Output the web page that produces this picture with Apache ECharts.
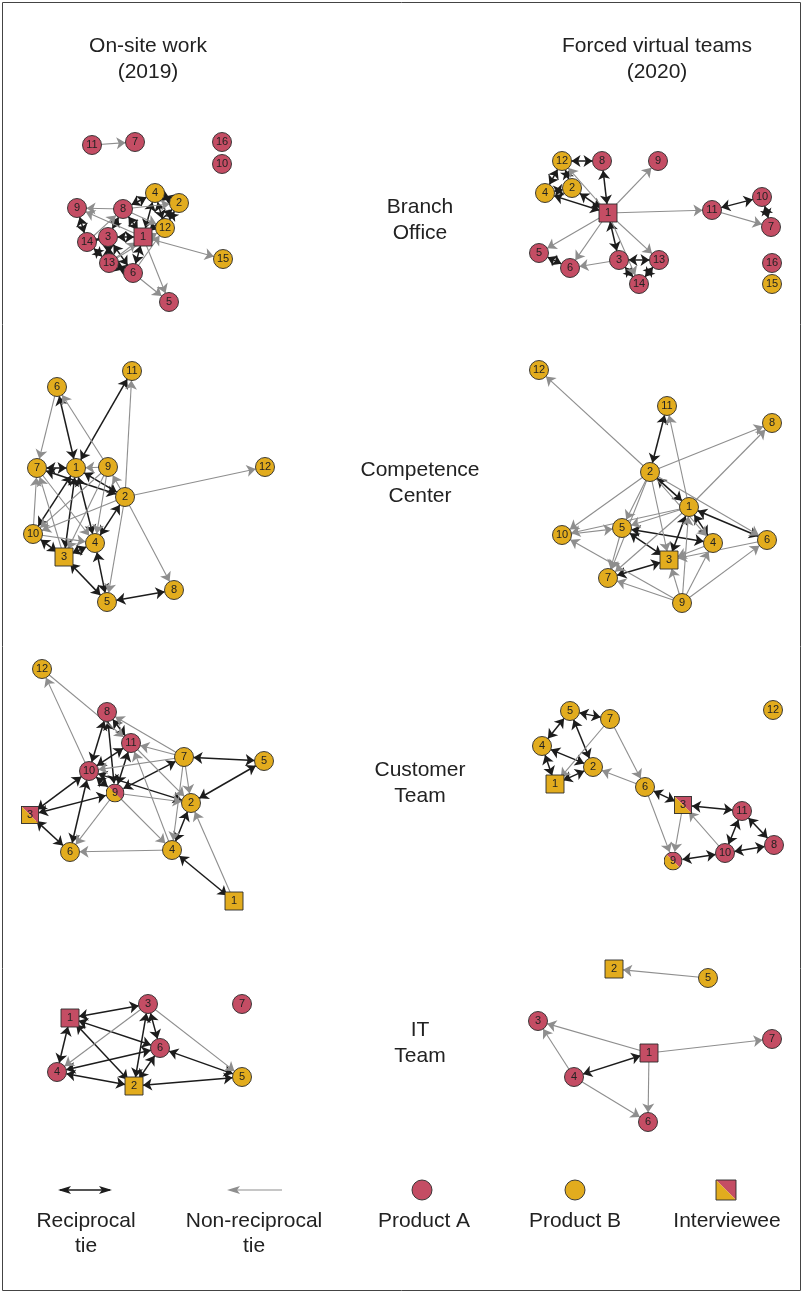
<!DOCTYPE html>
<html>
<head>
<meta charset="utf-8">
<script src="https://cdn.jsdelivr.net/npm/echarts@6/dist/echarts.min.js"></script>
<style>
  html, body { margin: 0; padding: 0; background: #fff; }
  #chart { width: 803px; height: 1293px; }
</style>
</head>
<body>
<div id="chart"></div>
<script>
// Node tables: [label, layoutX, layoutY, product ('A', 'B' or 'AB' for both), interviewee (1/0)]
// Tie tables: reciprocal pairs [a, b] and one-way ties [from, to]

// Branch Office
const branch2019Nodes = [
  [11, 72, 10, 'A', 0], [7, 115, 7, 'A', 0], [16, 202, 7, 'A', 0], [10, 202, 29, 'A', 0],
  [4, 135, 58, 'B', 0], [2, 159, 68, 'B', 0], [9, 57, 73, 'A', 0], [8, 103, 74, 'A', 0],
  [12, 145, 93, 'B', 0], [1, 123, 102, 'A', 1], [3, 88, 102, 'A', 0], [14, 67, 107, 'A', 0],
  [15, 203, 124, 'B', 0], [13, 89, 128, 'A', 0], [6, 113, 138, 'A', 0], [5, 149, 167, 'A', 0]
];
const branch2019Reciprocal = [
  [9, 14], [4, 2], [8, 4], [4, 12], [2, 12], [1, 4], [1, 2], [8, 1], [8, 3], [3, 1],
  [3, 13], [14, 13], [13, 6], [3, 6], [6, 1], [14, 3]
];
const branch2019OneWay = [
  [11, 7], [8, 9], [1, 9], [8, 2], [8, 12], [14, 8], [13, 12], [6, 12], [1, 15], [1, 5], [6, 5], [13, 1]
];

const branch2020Nodes = [
  [12, 32, 26, 'B', 0], [8, 72, 26, 'A', 0], [9, 128, 26, 'A', 0], [2, 42, 53, 'B', 0],
  [4, 15, 58, 'B', 0], [1, 78, 78, 'A', 1], [11, 182, 75, 'A', 0], [10, 232, 62, 'A', 0],
  [7, 241, 92, 'A', 0], [5, 9, 118, 'A', 0], [3, 89, 125, 'A', 0], [13, 129, 125, 'A', 0],
  [6, 40, 133, 'A', 0], [14, 109, 149, 'A', 0], [16, 242, 128, 'A', 0], [15, 242, 149, 'B', 0]
];
const branch2020Reciprocal = [
  [12, 8], [12, 4], [12, 2], [2, 4], [8, 1], [4, 1], [2, 1], [11, 10], [10, 7], [1, 3],
  [3, 13], [3, 14], [13, 14], [5, 6]
];
const branch2020OneWay = [
  [1, 12], [1, 9], [1, 11], [11, 7], [1, 5], [1, 6], [1, 13], [1, 14], [3, 6]
];

// Competence Center
const competence2019Nodes = [
  [11, 112, 11, 'B', 0], [6, 37, 27, 'B', 0], [7, 17, 108, 'B', 0], [1, 56, 108, 'B', 0],
  [9, 88, 107, 'B', 0], [12, 245, 107, 'B', 0], [2, 105, 137, 'B', 0], [10, 13, 174, 'B', 0],
  [4, 75, 183, 'B', 0], [3, 44, 197, 'B', 1], [8, 154, 230, 'B', 0], [5, 87, 242, 'B', 0]
];
const competence2019Reciprocal = [
  [6, 1], [1, 11], [1, 7], [1, 2], [7, 2], [2, 4], [1, 10], [1, 3], [1, 4], [10, 3],
  [4, 3], [4, 5], [3, 5], [5, 8]
];
const competence2019OneWay = [
  [6, 7], [2, 11], [9, 6], [9, 1], [2, 9], [2, 12], [2, 8], [2, 5], [2, 10], [10, 7],
  [3, 7], [7, 4], [9, 10], [9, 3], [9, 4], [10, 4]
];

const competence2020Nodes = [
  [12, 9, 10, 'B', 0], [11, 137, 46, 'B', 0], [8, 242, 63, 'B', 0], [2, 120, 112, 'B', 0],
  [1, 159, 147, 'B', 0], [10, 32, 175, 'B', 0], [5, 92, 168, 'B', 0], [4, 183, 183, 'B', 0],
  [6, 237, 180, 'B', 0], [3, 139, 200, 'B', 1], [7, 78, 218, 'B', 0], [9, 152, 243, 'B', 0]
];
const competence2020Reciprocal = [
  [2, 11], [2, 1], [1, 4], [1, 6], [1, 3], [5, 4], [5, 3], [3, 7]
];
const competence2020OneWay = [
  [2, 12], [2, 8], [1, 8], [1, 11], [9, 1], [2, 6], [2, 4], [2, 10], [2, 5], [2, 7], [2, 3],
  [1, 5], [1, 10], [1, 7], [10, 5], [5, 7], [4, 3], [6, 3], [9, 3], [9, 7], [9, 10], [9, 4], [9, 6]
];

// Customer Team
const customer2019Nodes = [
  [12, 22, 9, 'B', 0], [8, 87, 52, 'A', 0], [11, 111, 83, 'A', 0], [7, 164, 97, 'B', 0],
  [5, 244, 101, 'B', 0], [10, 69, 111, 'A', 0], [9, 95, 133, 'AB', 0], [2, 171, 143, 'B', 0],
  [3, 10, 155, 'AB', 1], [6, 50, 192, 'B', 0], [4, 152, 190, 'B', 0], [1, 214, 241, 'B', 1]
];
const customer2019Reciprocal = [
  [8, 10], [8, 11], [8, 9], [7, 5], [7, 9], [11, 10], [11, 9], [10, 9], [10, 2], [10, 3],
  [10, 6], [3, 9], [3, 6], [5, 2], [2, 4], [4, 1]
];
const customer2019OneWay = [
  [10, 12], [12, 11], [7, 8], [7, 11], [7, 10], [7, 2], [7, 4], [11, 2], [4, 11], [9, 6],
  [9, 4], [9, 2], [4, 6], [1, 2]
];

const customer2020Nodes = [
  [5, 40, 51, 'B', 0], [7, 80, 59, 'B', 0], [12, 243, 50, 'B', 0], [4, 12, 86, 'B', 0],
  [2, 63, 107, 'B', 0], [1, 25, 124, 'B', 1], [6, 115, 127, 'B', 0], [3, 153, 145, 'AB', 1],
  [11, 212, 151, 'A', 0], [8, 244, 185, 'A', 0], [10, 195, 193, 'A', 0], [9, 143, 201, 'AB', 0]
];
const customer2020Reciprocal = [
  [5, 7], [5, 4], [5, 2], [4, 2], [4, 1], [1, 2], [6, 3], [3, 11], [11, 10], [11, 8], [10, 8], [9, 10]
];
const customer2020OneWay = [
  [7, 1], [7, 6], [6, 2], [6, 9], [3, 9], [10, 3]
];

// IT Team
const it2019Nodes = [
  [1, 50, 58, 'A', 1], [3, 128, 44, 'A', 0], [7, 222, 44, 'A', 0], [6, 140, 88, 'A', 0],
  [4, 37, 112, 'A', 0], [2, 114, 126, 'B', 1], [5, 222, 117, 'B', 0]
];
const it2019Reciprocal = [
  [1, 3], [1, 4], [1, 2], [1, 6], [3, 2], [3, 6], [6, 4], [6, 2], [6, 5], [4, 2], [2, 5]
];
const it2019OneWay = [[3, 4], [3, 5]];

const it2020Nodes = [
  [2, 84, 9, 'B', 1], [5, 178, 18, 'B', 0], [3, 8, 61, 'A', 0], [7, 242, 79, 'A', 0],
  [1, 119, 93, 'A', 1], [4, 44, 117, 'A', 0], [6, 118, 162, 'A', 0]
];
const it2020Reciprocal = [[1, 4]];
const it2020OneWay = [[5, 2], [1, 3], [1, 7], [4, 3], [4, 6], [1, 6]];

// Text
const periodTitles = [['On-site work', '(2019)'], ['Forced virtual teams', '(2020)']];
const unitTitles = [['Branch', 'Office'], ['Competence', 'Center'], ['Customer', 'Team'], ['IT', 'Team']];
const legendLabels = [['Reciprocal', 'tie'], ['Non-reciprocal', 'tie'], ['Product A'], ['Product B'], ['Interviewee']];

// ---- drawing ----
const COLOR_A = '#c44d64';
const COLOR_B = '#e2ac1e';
const STROKE = '#2a2a2a';
const TIE_DARK = '#1c1c1c';
const TIE_GREY = '#8e8e8e';
const FONT = '"Liberation Sans", Arial, sans-serif';

const panels = [
  { nodes: branch2019Nodes, reciprocal: branch2019Reciprocal, oneWay: branch2019OneWay, col: 0, row: 0 },
  { nodes: branch2020Nodes, reciprocal: branch2020Reciprocal, oneWay: branch2020OneWay, col: 1, row: 0 },
  { nodes: competence2019Nodes, reciprocal: competence2019Reciprocal, oneWay: competence2019OneWay, col: 0, row: 1 },
  { nodes: competence2020Nodes, reciprocal: competence2020Reciprocal, oneWay: competence2020OneWay, col: 1, row: 1 },
  { nodes: customer2019Nodes, reciprocal: customer2019Reciprocal, oneWay: customer2019OneWay, col: 0, row: 2 },
  { nodes: customer2020Nodes, reciprocal: customer2020Reciprocal, oneWay: customer2020OneWay, col: 1, row: 2 },
  { nodes: it2019Nodes, reciprocal: it2019Reciprocal, oneWay: it2019OneWay, col: 0, row: 3 },
  { nodes: it2020Nodes, reciprocal: it2020Reciprocal, oneWay: it2020OneWay, col: 1, row: 3 }
];

const colLeft = [20, 530];
const rowTop = [135, 360, 660, 960];
const PANEL = 260;

function splitSymbol(shape) {
  let svg;
  if (shape === 'rect') {
    svg = "<svg xmlns='http://www.w3.org/2000/svg' width='36' height='36' viewBox='0 0 36 36'>" +
      "<polygon points='1,1 35,1 35,35' fill='" + COLOR_A + "'/>" +
      "<polygon points='1,1 1,35 35,35' fill='" + COLOR_B + "'/>" +
      "<rect x='1' y='1' width='34' height='34' fill='none' stroke='" + STROKE + "' stroke-width='1.8'/></svg>";
  } else {
    const c = 18, r = 17, d = r * Math.SQRT1_2;
    const p1 = (c - d).toFixed(2), p2 = (c + d).toFixed(2);
    svg = "<svg xmlns='http://www.w3.org/2000/svg' width='36' height='36' viewBox='0 0 36 36'>" +
      "<path d='M" + p1 + " " + p1 + " A" + r + " " + r + " 0 0 1 " + p2 + " " + p2 + " Z' fill='" + COLOR_A + "'/>" +
      "<path d='M" + p2 + " " + p2 + " A" + r + " " + r + " 0 0 1 " + p1 + " " + p1 + " Z' fill='" + COLOR_B + "'/>" +
      "<circle cx='18' cy='18' r='17' fill='none' stroke='" + STROKE + "' stroke-width='1.8'/></svg>";
  }
  return 'image://data:image/svg+xml;charset=utf-8,' + encodeURIComponent(svg);
}

const grids = [], xAxes = [], yAxes = [], series = [];

panels.forEach((panel, i) => {
  grids.push({ left: colLeft[panel.col], top: rowTop[panel.row], width: PANEL, height: PANEL, show: false });
  xAxes.push({ type: 'value', gridIndex: i, min: 0, max: PANEL, show: false });
  yAxes.push({ type: 'value', gridIndex: i, min: 0, max: PANEL, inverse: true, show: false });

  const data = panel.nodes.map(([label, x, y, product, interviewee]) => {
    const shape = interviewee ? 'rect' : 'circle';
    const item = { name: String(label), value: [x, y], symbolSize: interviewee ? 18 : 19 };
    if (product === 'AB') {
      item.symbol = splitSymbol(shape);
    } else {
      item.symbol = shape;
      item.itemStyle = { color: product === 'A' ? COLOR_A : COLOR_B, borderColor: STROKE, borderWidth: 0.9 };
    }
    return item;
  });

  const links = panel.reciprocal.map(([a, b]) => ({
    source: String(a), target: String(b),
    symbol: ['arrow', 'arrow'],
    lineStyle: { color: TIE_DARK, width: 1.5, opacity: 1 }
  })).concat(panel.oneWay.map(([a, b]) => ({
    source: String(a), target: String(b),
    symbol: ['none', 'arrow'],
    lineStyle: { color: TIE_GREY, width: 1.1, opacity: 1 }
  })));

  series.push({
    type: 'graph',
    coordinateSystem: 'cartesian2d',
    xAxisIndex: i,
    yAxisIndex: i,
    data: data,
    links: links,
    edgeSymbol: ['none', 'arrow'],
    edgeSymbolSize: 9,
    label: { show: true, position: 'inside', formatter: '{b}', fontSize: 11, color: '#222', fontFamily: FONT },
    emphasis: { disabled: true },
    silent: true
  });
});

// Titles, unit names, legend and frame
const graphic = [];
const textStyle = (text, x, y) => ({
  type: 'text', silent: true,
  style: { text: text, x: x, y: y, align: 'center', verticalAlign: 'middle', fontSize: 21, fontFamily: FONT, fill: '#222' }
});

[148, 657].forEach((cx, i) => {
  graphic.push(textStyle(periodTitles[i][0], cx, 46));
  graphic.push(textStyle(periodTitles[i][1], cx, 72));
});
const unitY = [207, 470, 770, 1030];
unitTitles.forEach((lines, i) => {
  graphic.push(textStyle(lines[0], 420, unitY[i]));
  graphic.push(textStyle(lines[1], 420, unitY[i] + 26));
});

// legend marks
const LY = 1190;
function arrowHead(tipX, dir, color) {
  // dir: -1 points left, 1 points right
  const len = 13, half = 4, notch = 10;
  return {
    type: 'polygon', silent: true,
    shape: { points: [[tipX, LY], [tipX - dir * len, LY - half], [tipX - dir * notch, LY], [tipX - dir * len, LY + half]] },
    style: { fill: color }
  };
}
graphic.push({ type: 'line', silent: true, shape: { x1: 60, y1: LY, x2: 110, y2: LY }, style: { stroke: TIE_DARK, lineWidth: 1.5 } });
graphic.push(arrowHead(58, -1, TIE_DARK));
graphic.push(arrowHead(112, 1, TIE_DARK));
graphic.push({ type: 'line', silent: true, shape: { x1: 230, y1: LY, x2: 282, y2: LY }, style: { stroke: TIE_GREY, lineWidth: 1.1 } });
graphic.push(arrowHead(227, -1, TIE_GREY));
graphic.push({ type: 'circle', silent: true, shape: { cx: 422, cy: LY, r: 10 }, style: { fill: COLOR_A, stroke: STROKE, lineWidth: 0.9 } });
graphic.push({ type: 'circle', silent: true, shape: { cx: 575, cy: LY, r: 10 }, style: { fill: COLOR_B, stroke: STROKE, lineWidth: 0.9 } });
graphic.push({ type: 'polygon', silent: true, shape: { points: [[716, 1180], [736, 1180], [736, 1200]] }, style: { fill: COLOR_A } });
graphic.push({ type: 'polygon', silent: true, shape: { points: [[716, 1180], [716, 1200], [736, 1200]] }, style: { fill: COLOR_B } });
graphic.push({ type: 'rect', silent: true, shape: { x: 716, y: 1180, width: 20, height: 20 }, style: { fill: 'none', stroke: STROKE, lineWidth: 0.9 } });

const legendX = [86, 254, 424, 575, 727];
legendLabels.forEach((lines, i) => {
  lines.forEach((t, j) => graphic.push(textStyle(t, legendX[i], 1221 + j * 25)));
});

graphic.push({ type: 'rect', silent: true, shape: { x: 2.5, y: 2.5, width: 798, height: 1288 }, style: { fill: 'none', stroke: '#444', lineWidth: 1 } });

const chart = echarts.init(document.getElementById('chart'), null, { renderer: 'canvas' });
chart.setOption({
  animation: false,
  backgroundColor: '#fff',
  grid: grids,
  xAxis: xAxes,
  yAxis: yAxes,
  series: series,
  graphic: graphic
});
</script>
</body>
</html>
